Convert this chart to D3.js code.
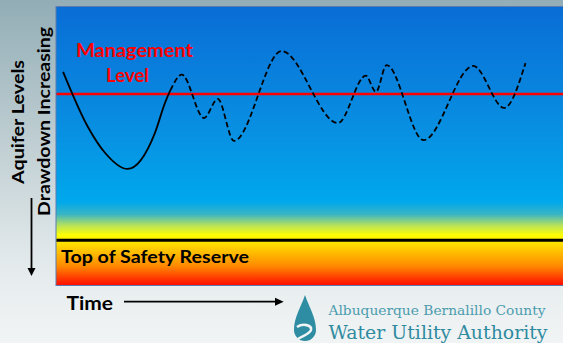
<!DOCTYPE html>
<html><head><meta charset="utf-8">
<script src="https://cdn.jsdelivr.net/npm/d3@7"></script>
<style>html,body{margin:0;padding:0;overflow:hidden;}svg{display:block;}</style>
</head><body>
<script>
// ---- data ----
const historicalTime = [1.4, 6.3, 9.7, 14.1, 19.5, 21.5, 22.7];
const historicalDrawdown = [23.5, 43.2, 52.5, 58.2, 45.4, 34.6, 29.6];
const projectedTime = [24.8, 29.2, 31.9, 35.1, 44.5, 55.6, 61.1, 63.1, 65.2, 72.5, 82.3, 88.4, 92.6];
const projectedDrawdown = [24.5, 40.0, 33.2, 48.2, 16.1, 41.8, 24.9, 30.7, 21.1, 47.9, 21.4, 36.4, 20.4];
const managementLevel = 31.4;
const safetyReserveTop = 83.7;
const labels = {
  mgmt: ["Management", "Level"],
  reserve: "Top of Safety Reserve",
  time: "Time",
  yOuter: "Aquifer Levels",
  yInner: "Drawdown Increasing",
  org1: "Albuquerque Bernalillo County",
  org2: "Water Utility Authority"
};

const W = 563, H = 343;
const px0 = 56, px1 = 563, py0 = 6.5, py1 = 285.5;
const x = d3.scaleLinear().domain([0, 100]).range([px0, px1]);
const y = d3.scaleLinear().domain([0, 100]).range([6, 286]);

const svg = d3.select("body").append("svg").attr("width", W).attr("height", H);
const defs = svg.append("defs");

const bg = defs.append("linearGradient").attr("id", "bg").attr("x1", 0).attr("x2", 0).attr("y1", 0).attr("y2", 1);
[[0, "#92adb6"], [0.45, "#c3d1d5"], [0.8, "#e6ecee"], [1, "#f1f4f5"]].forEach(([o, c]) => bg.append("stop").attr("offset", o).attr("stop-color", c));

const pg = defs.append("linearGradient").attr("id", "pg").attr("x1", 0).attr("x2", 0).attr("y1", 0).attr("y2", 1);
[[0, "#096dd6"], [0.45, "#0890e2"], [0.70, "#00a8ec"], [0.745, "#3ab5c4"], [0.785, "#b8e25a"], [0.82, "#ffff00"], [0.855, "#ffd800"], [0.93, "#ff8a00"], [1, "#ff0a00"]]
  .forEach(([o, c]) => pg.append("stop").attr("offset", o).attr("stop-color", c));

svg.append("rect").attr("width", W).attr("height", H).attr("fill", "url(#bg)");
svg.append("rect").attr("x", px0).attr("y", py0).attr("width", px1 - px0 + 2).attr("height", py1 - py0)
  .attr("fill", "url(#pg)").attr("stroke", "#5a7cb0").attr("stroke-width", 1);

// reference lines
svg.append("line").attr("x1", px0 + 0.5).attr("x2", px1).attr("y1", y(managementLevel)).attr("y2", y(managementLevel))
  .attr("stroke", "#ff0000").attr("stroke-width", 2.5);
svg.append("line").attr("x1", px0 + 0.5).attr("x2", px1).attr("y1", y(safetyReserveTop)).attr("y2", y(safetyReserveTop))
  .attr("stroke", "#000").attr("stroke-width", 3);

// curve
const pts = historicalTime.map((t, i) => [t, historicalDrawdown[i]])
  .concat(projectedTime.map((t, i) => [t, projectedDrawdown[i]]));
const line = d3.line().x(d => x(d[0])).y(d => y(d[1])).curve(d3.curveMonotoneX);
const split = x(historicalTime[historicalTime.length - 1]);
defs.append("clipPath").attr("id", "cHist").append("rect").attr("x", 0).attr("y", 0).attr("width", split).attr("height", H);
defs.append("clipPath").attr("id", "cProj").append("rect").attr("x", split).attr("y", 0).attr("width", W - split).attr("height", H);
svg.append("path").attr("d", line(pts)).attr("fill", "none").attr("stroke", "#000").attr("stroke-width", 1.8)
  .attr("clip-path", "url(#cHist)");
svg.append("path").attr("d", line(pts)).attr("fill", "none").attr("stroke", "#000").attr("stroke-width", 1.8)
  .attr("stroke-dasharray", "5.5,3").attr("clip-path", "url(#cProj)");

const bold = "Lato, 'Open Sans', sans-serif";
function txt(s, xx, yy, size, w, fill, rot) {
  const t = svg.append("text").attr("font-family", bold).attr("font-weight", 700).attr("font-size", size)
    .attr("fill", fill).text(s).attr("textLength", w).attr("lengthAdjust", "spacingAndGlyphs");
  if (rot) t.attr("transform", `translate(${xx},${yy}) rotate(-90)`).attr("text-anchor", "middle");
  else t.attr("x", xx).attr("y", yy);
  return t;
}
txt(labels.mgmt[0], 76, 56.7, 18.5, 117, "#ff0000");
txt(labels.mgmt[1], 106, 81.7, 18.5, 43, "#ff0000");
txt(labels.reserve, 61, 263.3, 16.5, 188, "#000");
txt(labels.time, 66.4, 310, 18.5, 46.6, "#000");
txt(labels.yOuter, 23.5, 122, 17, 124, "#000", true);
txt(labels.yInner, 49.5, 121.4, 17, 189, "#000", true);

// arrows
svg.append("line").attr("x1", 31.5).attr("x2", 31.5).attr("y1", 198).attr("y2", 269).attr("stroke", "#000").attr("stroke-width", 1.8);
svg.append("path").attr("d", "M27.5,268 L35.5,268 L31.5,276 Z").attr("fill", "#000");
svg.append("line").attr("x1", 124).attr("x2", 276).attr("y1", 301.7).attr("y2", 301.7).attr("stroke", "#000").attr("stroke-width", 1.8);
svg.append("path").attr("d", "M275,297.7 L275,305.7 L283.7,301.7 Z").attr("fill", "#000");

// logo
svg.append("path").attr("d", "M305,295 C301,307 294,317 294,330 A11,11 0 0 0 316,330 C316,317 309,307 305,295 Z").attr("fill", "#2e8da2");
svg.append("path").attr("d", "M297,327 C303,323 312,325 311,330 C310,334 302,336 298,339").attr("fill", "none")
  .attr("stroke", "#f1f4f5").attr("stroke-width", 2.6);
const serif = "'DejaVu Serif', 'Liberation Serif', serif";
svg.append("text").attr("x", 328.5).attr("y", 315).attr("font-family", serif).attr("font-size", 13)
  .attr("fill", "#4b9cae").attr("textLength", 217).attr("lengthAdjust", "spacingAndGlyphs").text(labels.org1);
svg.append("text").attr("x", 328.5).attr("y", 339.3).attr("font-family", serif).attr("font-size", 18.5)
  .attr("fill", "#2f8b9f").attr("textLength", 219).attr("lengthAdjust", "spacingAndGlyphs").text(labels.org2);
</script>
</body></html>
